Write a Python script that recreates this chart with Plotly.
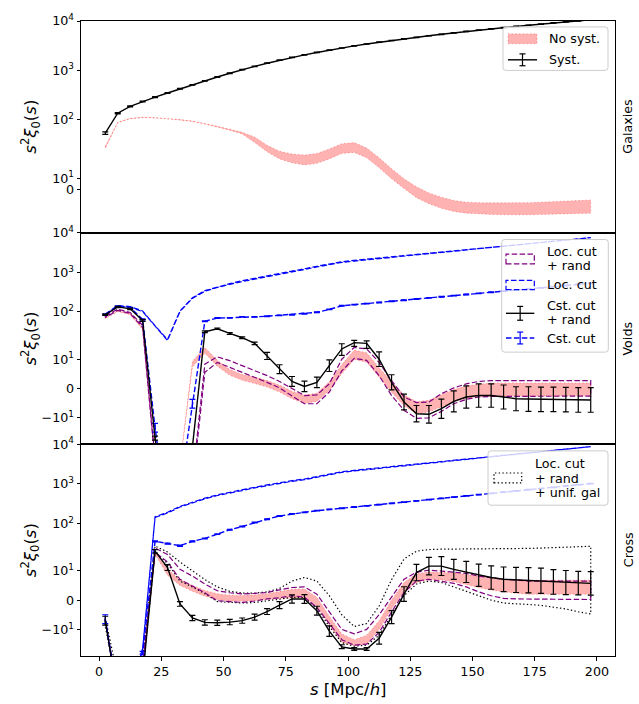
import numpy as np
import plotly.graph_objects as go

# ---------------- data ----------------
s = [2.5, 7.5, 12.5, 17.5, 22.5, 27.5, 32.5, 37.5, 42.5, 47.5, 52.5, 57.5, 62.5, 67.5, 72.5,
     77.5, 82.5, 87.5, 92.5, 97.5, 102.5, 107.5, 112.5, 117.5, 122.5, 127.5, 132.5, 137.5,
     142.5, 147.5, 152.5, 157.5, 162.5, 167.5, 172.5, 177.5, 182.5, 187.5, 192.5, 197.5]

# Galaxies panel
gal_syst = [53, 134, 185, 232, 285, 345, 420, 505, 610, 730, 870, 1030, 1200, 1390, 1600, 1820,
            2050, 2300, 2560, 2830, 3120, 3410, 3710, 4020, 4340, 4665, 5020, 5370, 5745, 6135,
            6510, 6920, 7340, 7770, 8210, 8665, 9125, 9600, 10080, 10570]
gal_syst_err = [3, 4, 5, 5, 6, 7, 8, 9, 10, 12, 13, 15, 17, 19, 21, 23, 26, 28, 31, 34, 37, 40,
                43, 46, 50, 53, 57, 61, 65, 69, 73, 77, 82, 86, 91, 96, 101, 106, 111, 116]
gal_nosyst = [38, 87, 105, 110, 108, 104, 99, 92, 82, 72, 62, 53, 45, 37, 31, 28, 26.5, 28, 32,
              37, 38, 33, 24, 14, 5, -3, -8.5, -12.5, -15.5, -17, -17.5, -17.8, -18, -18, -18,
              -17.5, -17, -16.8, -16.4, -16]
gal_nosyst_err = [1, 1, 1, 1, 1, 1, 1, 1, 1, 1, 1.5, 2, 2.5, 3, 3.5, 4, 4.5, 4.5, 4.5, 4.5, 4.5,
                  4.5, 4.5, 4.5, 4.5, 5, 5, 5, 5, 5, 5, 5.5, 5.5, 5.5, 5.5, 5.5, 6, 6, 6, 6]

# Voids panel
void_loc = [85, 143, 134, 104, 44, 19.5, 104, 224, 340, 422, 510, 607, 692, 790, 900, 1040, 1210,
            1400, 1620, 1820, 1973, 2117, 2270, 2433, 2607, 2796, 3000, 3214, 3444, 3696, 3963,
            4247, 4551, 4883, 5236, 5611, 6013, 6451, 6919, 7414]
void_loc_err = [2, 3, 3, 2, 1, 0.5, 2, 4, 6, 8, 10, 12, 14, 16, 18, 21, 24, 28, 32, 36, 40, 42,
                45, 49, 52, 56, 60, 64, 69, 74, 79, 85, 91, 98, 105, 112, 120, 129, 138, 148]
void_cst = [88, 140, 128, 65, -13.4, -2000, -400, -5.2, 58, 70, 71, 75, 75, 78, 82, 85, 90, 98,
            116, 143, 153, 163, 174, 186, 198, 212, 226, 242, 258, 276, 294, 314, 335, 358, 382,
            408, 436, 466, 497, 531]
void_cst_err = [2, 3, 3, 2, 1.5, 5, 5, 1.5, 1.5, 1.5, 1.5, 1.5, 1.5, 1.5, 1.5, 2, 2, 2, 2.5, 3,
                3, 3, 3.5, 3.5, 4, 4, 4, 4.5, 5, 5, 5, 6, 6, 6, 7, 7, 8, 8, 9, 9]
void_cstrand = [85, 134, 120, 61, -21, -2000, -1000, -35, 31.6, 37.5, 28.7, 22.3, 16.1, 11.1, 6.6,
                2.4, 0.7, 2.1, 7.8, 13.5, 16.8, 16.1, 10, 2.1, -4.6, -8.6, -8.8, -6.9, -4.4, -2.9,
                -2.4, -2.4, -2.9, -3.5, -3.6, -3.7, -3.7, -3.8, -3.9, -3.9]
void_cstrand_err = [3, 5, 5, 3, 2.5, 3, 3, 3, 1.5, 1.5, 1.5, 1.2, 1.1, 1.2, 1.5, 1.7, 1.8, 1.8, 2.0,
                    2.2, 2.4, 2.4, 2.5, 2.6, 2.7, 2.8, 3.0, 3.3, 3.6, 3.8, 4.0, 4.0, 4.1, 4.1, 4.2,
                    4.2, 4.2, 4.2, 4.2, 4.2]
void_locrand_hi = [78, 118, 97, 46, -70, -1800, -700, -250, 8.3, 10.8, 9.5, 7.8, 6.1, 4.4, 2.4,
                   -0.1, -2.4, -2.2, 1.6, 10, 14, 13.5, 8.9, 2.7, -2.9, -4.8, -4.6, -1.8, 0.2, 1.6,
                   2.4, 2.7, 2.7, 2.7, 2.7, 2.7, 2.7, 2.7, 2.7, 2.7]
void_locrand_lo = [72, 110, 91, 41, -90, -2200, -900, -350, 5.5, 8.9, 7.2, 5.5, 3.8, 2.1, 0.2,
                   -2.4, -5.2, -5.2, -1.2, 6, 10.3, 9.6, 4.4, -2.4, -7.4, -10.2, -10, -7.8, -5.2,
                   -3.7, -2.9, -2.7, -2.6, -2.6, -2.6, -2.6, -2.6, -2.6, -2.6, -2.6]
void_nosyst = [70, 105, 88, 38, -60, -1500, -100, 8.3, 13, 8.6, 5.5, 3.8, 2.8, 1.6, 0, -2.2, -3.6,
               -3.0, 0.8, 6.6, 11.5, 10.6, 5.5, 0.5, -4, -6.5, -6.0, -4.2, -2.4, -1.2, -0.6, -0.3,
               -0.3, -0.3, -0.3, -0.3, -0.3, -0.3, -0.3, -0.3]
void_nosyst_err = [2, 3, 3, 2, 5, 50, 5, 1, 1, 1, 1, 1, 1.1, 1.1, 1.2, 1.3, 1.4, 1.4, 1.5, 1.6, 1.6,
                   1.6, 1.7, 1.8, 1.9, 2.0, 2.0, 2.0, 2.1, 2.1, 2.1, 2.2, 2.2, 2.2, 2.2, 2.2, 2.2,
                   2.2, 2.2, 2.2]

# Cross panel
cross_loc = [-7, -300, -200, -20, 145, 188, 266, 341, 428, 520, 607, 694, 810, 925, 1058, 1188,
             1306, 1496, 1710, 2000, 2171, 2334, 2509, 2698, 2901, 3120, 3354, 3606, 3877, 4169,
             4483, 4820, 5183, 5573, 5992, 6443, 6927, 7449, 8009, 8611]
cross_loc_err = [0.3, 5, 5, 0.5, 3, 4, 5, 7, 9, 10, 12, 14, 16, 18, 21, 24, 26, 30, 34, 40, 43,
                 47, 50, 54, 58, 62, 67, 72, 78, 83, 90, 96, 104, 111, 120, 129, 139, 149, 160, 172]
cross_cst = [-6.5, -300, -200, -25, 35.5, 31, 27.6, 35.5, 42, 54, 69.5, 84, 106, 128, 155, 175,
             192, 211, 228, 243, 261, 280, 301, 324, 348, 374, 402, 432, 464, 498, 536, 576, 618,
             665, 715, 768, 824, 886, 953, 1023]
cross_cst_err = [1.5, 5, 5, 2, 1, 1, 1, 1, 1, 1.2, 1.5, 2, 2, 2.5, 3, 3, 3.5, 4, 4, 4.5, 5, 5, 5.5,
                 6, 6, 6.5, 7, 7, 8, 8, 9, 9, 10, 10, 11, 11, 12, 12, 13, 14]
cross_cstrand = [-7, -300, -200, -100, 20, 11.1, -1.3, -6.1, -7.6, -7.7, -7.5, -7.0, -5.8, -3.9,
                 -1.7, 0.4, 0.4, -3.6, -10.6, -17.6, -20, -20, -13, -5.8, 2.05, 9.4, 11.6, 11.6,
                 10.5, 9.6, 8.5, 7.7, 7.1, 6.9, 6.8, 6.6, 6.2, 6.0, 5.8, 5.7]
cross_cstrand_err = [1.5, 5, 5, 5, 2, 1, 0.8, 0.9, 0.9, 0.9, 0.9, 0.9, 1.0, 1.0, 1.2, 1.4, 1.5, 1.5,
                     1.8, 2.0, 1.5, 1.5, 2.0, 2.2, 2.5, 2.8, 3.0, 3.2, 3.4, 3.6, 3.8, 4.0, 4.2, 4.3,
                     4.3, 4.3, 4.2, 4.1, 4.0, 4.0]
cross_locrand_hi = [-6.5, -300, -200, -50, 24, 16.5, 10.5, 8.2, 5.5, 3.2, 2.5, 2.1, 2.3, 2.6, 3.5,
                    4.3, 4.5, 2.0, -4, -10, -11.5, -10, -5, 1, 7.1, 9.5, 10.2, 9.9, 9.5, 9.1, 8.2,
                    7.7, 7.1, 6.9, 6.5, 6.5, 6.5, 6.5, 6.5, 6.5]
cross_locrand_lo = [-8, -400, -300, -70, 19, 13, 7.1, 4.9, 2.5, -0.2, -0.5, -0.8, -0.3, 0.4, 0.8,
                    1.5, 1.0, -2.5, -8, -13.5, -16, -15, -11, -4, 2.6, 6.5, 7.1, 6.5, 5.7, 4.5,
                    2.8, 1.5, 0.6, 0.4, 0.2, 0.2, 0.2, 0.2, 0.2, 0.2]
cross_nosyst = [-7, -300, -300, -60, 18, 9.5, 6, 4, 2.3, 1.2, 0.7, 0.6, 0.8, 1.2, 1.7, 2.2, 2.3,
                -0.5, -7, -13, -15, -13.5, -8.5, -1.5, 4.5, 7.5, 8.3, 8.2, 7.8, 7.0, 6.2, 5.5, 5.0,
                4.6, 4.4, 4.4, 4.4, 4.4, 4.4, 4.4]
cross_nosyst_err = [0.5, 5, 5, 2, 1.5, 1, 1, 1, 1, 1, 1, 1, 1, 1, 1.2, 1.5, 1.5, 1.5, 1.5, 1.5, 1.5,
                    1.5, 1.5, 1.5, 1.5, 1.5, 1.3, 1.3, 1.5, 1.7, 1.9, 2.1, 2.2, 2.3, 2.4, 2.4, 2.4,
                    2.4, 2.4, 2.4]
cross_unif_hi = [-6, -100, -300, -40, 27, 19, 13, 10, 7, 4.5, 3.0, 2.4, 2.4, 2.8, 4, 6.5, 7.7, 6.5,
                 1.5, -5, -9, -8, -2, 7, 14, 20, 22, 22.5, 22.5, 22.5, 22.5, 22.5, 22.5, 23, 23.5,
                 24, 24.5, 25, 26, 26.6]
cross_unif_lo = [-9, -200, -500, -60, 19, 12.5, 6.5, 4.5, 2.2, -0.5, -0.8, -1.0, -0.8, -0.3, 0.3,
                 1.0, 0.8, -2.8, -9, -14.5, -17, -16, -12, -5, 1.5, 5.5, 6.5, 6, 4.5, 3, 1.5, 0,
                 -1, -1.3, -1.5, -1.8, -2.3, -3, -4, -4.7]

x_ticks = [0, 25, 50, 75, 100, 125, 150, 175, 200]
y_ticks_gal = [0, 10, 100, 1000, 10000]
y_ticks_gal_text = ["0", "10<sup>1</sup>", "10<sup>2</sup>", "10<sup>3</sup>", "10<sup>4</sup>"]
y_ticks_vc = [-10, 0, 10, 100, 1000, 10000]
y_ticks_vc_text = ["\u221210<sup>1</sup>", "0", "10<sup>1</sup>", "10<sup>2</sup>",
                   "10<sup>3</sup>", "10<sup>4</sup>"]

# ---------------- symlog scale ----------------
SADJ = 1.0 / 0.9
C_GAL, C_VC = 50.0, 15.0


def T(v, c):
    v = np.asarray(v, dtype=float)
    a = np.abs(v)
    lg = np.log10(np.where(a > 0, a, 1.0) / c)
    return np.where(a <= c, v / c * SADJ, np.sign(v) * (SADJ + lg))


FONT = "DejaVu Sans"
PINK = "rgba(255,0,0,0.3)"
PURPLE = "#800080"
BLUE = "#0000ff"
DASH = "5.5px,2.4px"
DOT = "1.4px,2.3px"

fig = go.Figure()


def band(hi, lo, c, ax, color, dash, fill, width=1.2):
    hi_t = T(hi, c)
    lo_t = T(lo, c)
    xs = list(s) + list(s[::-1]) + [s[0]]
    ys = list(hi_t) + list(lo_t[::-1]) + [hi_t[0]]
    fig.add_trace(go.Scatter(x=xs, y=ys, mode="lines", fill="toself", fillcolor=fill,
                             line=dict(color=color, dash=dash, width=width),
                             xaxis="x" + ax, yaxis="y" + ax, hoverinfo="skip",
                             showlegend=False))


def errline(vals, errs, c, ax, color, dash, width=1.4):
    v = np.asarray(vals, float)
    e = np.asarray(errs, float)
    yt = T(v, c)
    up = T(v + e, c) - yt
    dn = yt - T(v - e, c)
    fig.add_trace(go.Scatter(x=s, y=yt, mode="lines",
                             line=dict(color=color, dash=dash, width=width),
                             error_y=dict(type="data", array=up, arrayminus=dn, symmetric=False,
                                          color=color, thickness=1.2, width=3),
                             xaxis="x" + ax, yaxis="y" + ax, hoverinfo="skip",
                             showlegend=False))


def center_band(center, err):
    c_ = np.asarray(center, float)
    e_ = np.asarray(err, float)
    return c_ + e_, c_ - e_


# Panel 1: Galaxies
hi, lo = center_band(gal_nosyst, gal_nosyst_err)
band(hi, lo, C_GAL, "", PINK, DOT, PINK, 1.0)
errline(gal_syst, gal_syst_err, C_GAL, "", "black", "solid")

# Panel 2: Voids
hi, lo = center_band(void_nosyst, void_nosyst_err)
band(hi, lo, C_VC, "2", PINK, DOT, PINK, 1.0)
band(void_locrand_hi, void_locrand_lo, C_VC, "2", PURPLE, DASH, "rgba(0,0,0,0)")
hi, lo = center_band(void_loc, void_loc_err)
band(hi, lo, C_VC, "2", BLUE, DASH, "rgba(0,0,0,0)")
errline(void_cst, void_cst_err, C_VC, "2", BLUE, DASH)
errline(void_cstrand, void_cstrand_err, C_VC, "2", "black", "solid")

# Panel 3: Cross
hi, lo = center_band(cross_nosyst, cross_nosyst_err)
band(hi, lo, C_VC, "3", PINK, DOT, PINK, 1.0)
band(cross_unif_hi, cross_unif_lo, C_VC, "3", "black", DOT, "rgba(0,0,0,0)")
band(cross_locrand_hi, cross_locrand_lo, C_VC, "3", PURPLE, DASH, "rgba(0,0,0,0)")
hi, lo = center_band(cross_loc, cross_loc_err)
band(hi, lo, C_VC, "3", BLUE, DASH, "rgba(0,0,0,0)")
errline(cross_cst, cross_cst_err, C_VC, "3", BLUE, DASH)
errline(cross_cstrand, cross_cstrand_err, C_VC, "3", "black", "solid")

# ---------------- layout ----------------
L, R, TOP, BOT = 81, 615, 13, 656
W, H = 639, 704
XR = [-7.25, 207.25]
tickfont = dict(family=FONT, size=12.7, color="black")
xcommon = dict(range=XR, showgrid=False, zeroline=False, showline=True, linecolor="black",
               linewidth=1, mirror=True)
ycommon = dict(showgrid=False, zeroline=False, showline=True, linecolor="black", linewidth=1,
               mirror=True, ticks="outside", ticklen=3.5, tickwidth=1, tickcolor="black",
               tickfont=tickfont)

eps = 1e-6
d1 = (BOT - 227.5) / (BOT - TOP)
d2 = (BOT - 441.7) / (BOT - TOP)

fig.update_layout(
    width=W, height=H,
    margin=dict(l=L, r=W - R, t=TOP, b=H - BOT, pad=0),
    paper_bgcolor="white", plot_bgcolor="white",
    showlegend=False,
    font=dict(family=FONT, color="black"),
    xaxis=dict(**xcommon, anchor="y", showticklabels=False, ticks="", matches="x3"),
    xaxis2=dict(**xcommon, anchor="y2", showticklabels=False, ticks="", matches="x3"),
    xaxis3=dict(**xcommon, anchor="y3", ticks="outside", ticklen=3.5, tickwidth=1,
                tickcolor="black", tickvals=x_ticks, tickfont=tickfont),
    yaxis=dict(**ycommon, domain=[d1, 1],
               range=[float(T(-40, C_GAL)), float(T(1e4, C_GAL)) + eps],
               tickvals=list(T(y_ticks_gal, C_GAL)), ticktext=y_ticks_gal_text),
    yaxis2=dict(**ycommon, domain=[d2, d1],
                range=[float(T(-30, C_VC)), float(T(1e4, C_VC)) + eps],
                tickvals=list(T(y_ticks_vc, C_VC)), ticktext=y_ticks_vc_text),
    yaxis3=dict(**ycommon, domain=[0, d2],
                range=[float(T(-30, C_VC)), float(T(1e4, C_VC)) + eps],
                tickvals=list(T(y_ticks_vc, C_VC)), ticktext=y_ticks_vc_text),
)


def PX(x):
    return (x - L) / (R - L)


def PY(y):
    return (BOT - y) / (BOT - TOP)


shapes = []
annots = []


def legend_box(x0, y0, x1, y1, r=3.0):
    X0, X1 = PX(x0), PX(x1)
    Y0, Y1 = PY(y1), PY(y0)
    rx, ry = r / (R - L), r / (BOT - TOP)
    path = (f"M{X0 + rx},{Y0} L{X1 - rx},{Y0} Q{X1},{Y0} {X1},{Y0 + ry} "
            f"L{X1},{Y1 - ry} Q{X1},{Y1} {X1 - rx},{Y1} L{X0 + rx},{Y1} "
            f"Q{X0},{Y1} {X0},{Y1 - ry} L{X0},{Y0 + ry} Q{X0},{Y0} {X0 + rx},{Y0} Z")
    shapes.append(dict(type="path", xref="paper", yref="paper", path=path,
                       fillcolor="rgba(255,255,255,0.8)", line=dict(color="#cccccc", width=1)))


def rect_sym(x0, y0, x1, y1, color, dash, fill="rgba(0,0,0,0)", width=1.2):
    shapes.append(dict(type="rect", xref="paper", yref="paper", x0=PX(x0), x1=PX(x1),
                       y0=PY(y1), y1=PY(y0), fillcolor=fill,
                       line=dict(color=color, dash=dash, width=width)))


def seg(x0, y0, x1, y1, color, dash="solid", width=1.4):
    shapes.append(dict(type="line", xref="paper", yref="paper", x0=PX(x0), x1=PX(x1),
                       y0=PY(y0), y1=PY(y1), line=dict(color=color, dash=dash, width=width)))


def errsym(x0, x1, yc, half, color, dash):
    seg(x0, yc, x1, yc, color, dash)
    xm = (x0 + x1) / 2
    seg(xm, yc - half, xm, yc + half, color, "solid", 1.2)
    seg(xm - 3, yc - half, xm + 3, yc - half, color, "solid", 1.2)
    seg(xm - 3, yc + half, xm + 3, yc + half, color, "solid", 1.2)


def text(x, y, t, size=12.7, anchor="left", angle=0):
    annots.append(dict(x=PX(x), y=PY(y), xref="paper", yref="paper", text=t, showarrow=False,
                       xanchor=anchor, yanchor="middle", textangle=angle,
                       font=dict(family=FONT, size=size, color="black")))


# Legend panel 1
legend_box(503, 19, 608, 63)
rect_sym(508, 26, 537, 36, PINK, DOT, PINK, 1.0)
text(547, 31, "No syst.")
errsym(508, 537, 52.3, 6, "black", "solid")
text(547, 52.3, "Syst.")

# Legend panel 2
legend_box(501.7, 234.3, 608.3, 348.3)
rect_sym(506, 249, 534.3, 259, PURPLE, DASH)
text(545, 246, "Loc. cut")
text(545, 260.7, "+ rand")
rect_sym(506, 275.7, 534.3, 285, BLUE, DASH)
text(545, 280.3, "Loc. cut")
errsym(506, 534.3, 309, 7, "black", "solid")
text(545, 301, "Cst. cut")
text(545, 315.7, "+ rand")
errsym(506, 534.3, 334, 6, BLUE, DASH)
text(545, 334, "Cst. cut")

# Legend panel 3
legend_box(488, 448.3, 608, 503.3)
rect_sym(494, 470.7, 521.7, 480.7, "black", DOT)
text(533.3, 460.7, "Loc. cut")
text(533.3, 476, "+ rand")
text(533.3, 490.7, "+ unif. gal")

# Right-side panel labels
text(628, 120, "Galaxies", anchor="center", angle=-90)
text(628, 334.6, "Voids", anchor="center", angle=-90)
text(628, 548.8, "Cross", anchor="center", angle=-90)

# Axis titles
ytitle = "<i>s</i><sup>2</sup><i>\u03be</i><sub>0</sub>(<i>s</i>)"
text(30, 120, ytitle, size=16.5, anchor="center", angle=-90)
text(30, 334.6, ytitle, size=16.5, anchor="center", angle=-90)
text(30, 548.8, ytitle, size=16.5, anchor="center", angle=-90)
text(348, 690, "<i>s</i> [Mpc/<i>h</i>]", size=16.5, anchor="center")

fig.update_layout(shapes=shapes, annotations=annots)
fig.write_html("out.html",
               config={"displayModeBar": False},
               post_script="document.body.style.margin='0';"
                           "document.body.style.overflow='hidden';")
